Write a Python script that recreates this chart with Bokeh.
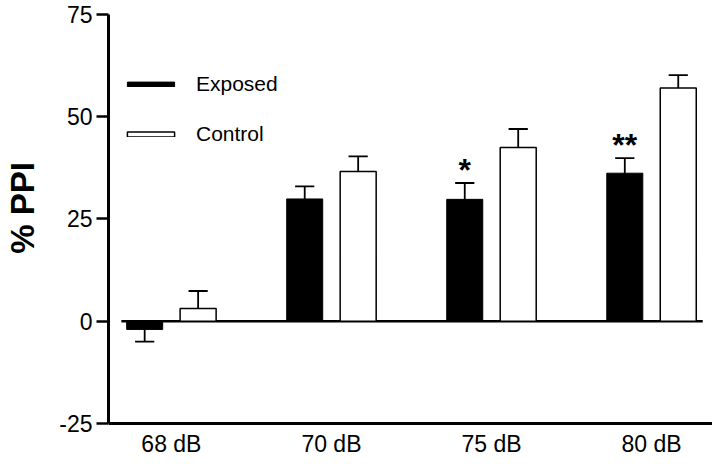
import numpy as np
from bokeh.plotting import figure
from bokeh.models import FixedTicker, Legend, LegendItem, Range1d, LinearAxis
from bokeh.core.properties import value
from bokeh.embed import file_html
from bokeh.resources import INLINE

# ---- data ----
groups = ["68 dB", "70 dB", "75 dB", "80 dB"]
exposed_mean = [-2.0, 29.9, 29.8, 36.2]
exposed_sem = [3.0, 3.1, 4.0, 3.7]
control_mean = [3.1, 36.6, 42.5, 57.0]
control_sem = [4.3, 3.7, 4.5, 3.2]
significance = ["", "", "*", "**"]
y_ticks = [-25, 0, 25, 50, 75]
y_title = "% PPI"

FONT = "Liberation Sans"
OFFSET = 0.167
BAR_W = 0.225
CAP_W = 0.12
STAR_GAP = 3.3

xs = np.arange(len(groups))
ex_x = xs - OFFSET
ct_x = xs + OFFSET

p = figure(width=712, height=456, output_backend="svg", toolbar_location=None,
           x_range=Range1d(-0.393, 3.381), y_range=Range1d(-33.07, 75),
           min_border_left=107, min_border_right=0, min_border_top=14,
           min_border_bottom=0)
p.outline_line_color = None
p.xgrid.visible = False
p.ygrid.visible = False
p.background_fill_color = "white"
p.border_fill_color = "white"

# zero baseline
p.segment(x0=[xs[0] - 0.3125], x1=[xs[-1] + 0.32], y0=[0], y1=[0],
          line_color="black", line_width=2.5)


def err_bars(x, mean, sem):
    ends = [m + (e if m >= 0 else -e) for m, e in zip(mean, sem)]
    p.segment(x0=x, x1=x, y0=mean, y1=ends, line_color="black", line_width=1.8)
    p.segment(x0=x - CAP_W / 2, x1=x + CAP_W / 2, y0=ends, y1=ends,
              line_color="black", line_width=1.8)


err_bars(ex_x, exposed_mean, exposed_sem)
err_bars(ct_x, control_mean, control_sem)

r_exp = p.vbar(x=ex_x, top=exposed_mean, bottom=0, width=BAR_W,
               fill_color="black", line_color="black", line_width=1)
r_ctl = p.vbar(x=ct_x, top=control_mean, bottom=0, width=BAR_W,
               fill_color="white", line_color="black", line_width=1.5)

star_y = [m + e + STAR_GAP for m, e in zip(exposed_mean, exposed_sem)]
p.text(x=ex_x, y=star_y, text=significance, text_font=value(FONT),
       text_font_style="bold", text_font_size="32px", text_align="center",
       text_baseline="alphabetic", text_color="black")

legend = Legend(items=[LegendItem(label="Exposed", renderers=[r_exp]),
                       LegendItem(label="Control", renderers=[r_ctl])],
                location=(13, 310), glyph_width=59, glyph_height=6,
                label_text_font=FONT, label_text_font_size="21px",
                label_text_color="black",
                label_standoff=16, spacing=26, padding=0, margin=0,
                label_height=22, border_line_color=None,
                background_fill_alpha=0)
p.add_layout(legend)

# x axis sits at -25 inside the frame
xaxis = p.xaxis[0]
xaxis.fixed_location = -25
xaxis.ticker = FixedTicker(ticks=list(xs))
xaxis.major_label_overrides = {int(i): g for i, g in zip(xs, groups)}
xaxis.major_tick_out = 0
xaxis.major_tick_in = 0
xaxis.minor_tick_line_color = None
xaxis.axis_line_width = 3
xaxis.axis_line_color = "black"
xaxis.major_label_text_font = FONT
xaxis.major_label_text_font_size = "23px"
xaxis.major_label_text_color = "black"
xaxis.major_label_standoff = 8

# main y axis
yaxis = p.yaxis[0]
yaxis.bounds = (-25, 75)
yaxis.ticker = FixedTicker(ticks=y_ticks)
yaxis.major_label_overrides = {t: str(t) for t in y_ticks}
yaxis.major_tick_out = 12
yaxis.major_tick_in = 0
yaxis.major_tick_line_width = 2.5
yaxis.major_tick_line_color = "black"
yaxis.minor_tick_line_color = None
yaxis.axis_line_width = 3
yaxis.axis_line_color = "black"
yaxis.major_label_text_font = FONT
yaxis.major_label_text_font_size = "23px"
yaxis.major_label_text_color = "black"
yaxis.major_label_standoff = 4

# title-only axis for the y label; leading no-break spaces lift the
# visible words a little above the frame's centre, as in the original
title_axis = LinearAxis(ticker=FixedTicker(ticks=[]), bounds=(-25, 75),
                        axis_line_color=None, major_tick_line_color=None,
                        minor_tick_line_color=None, major_tick_out=0,
                        major_tick_in=0, major_label_standoff=0,
                        axis_label="\u00a0" * 6 + y_title,
                        axis_label_text_font=FONT,
                        axis_label_text_font_style="bold",
                        axis_label_text_font_size="33px",
                        axis_label_text_color="black",
                        axis_label_standoff=16)
p.add_layout(title_axis, "left")

open("out.html", "w").write(file_html(p, INLINE))
